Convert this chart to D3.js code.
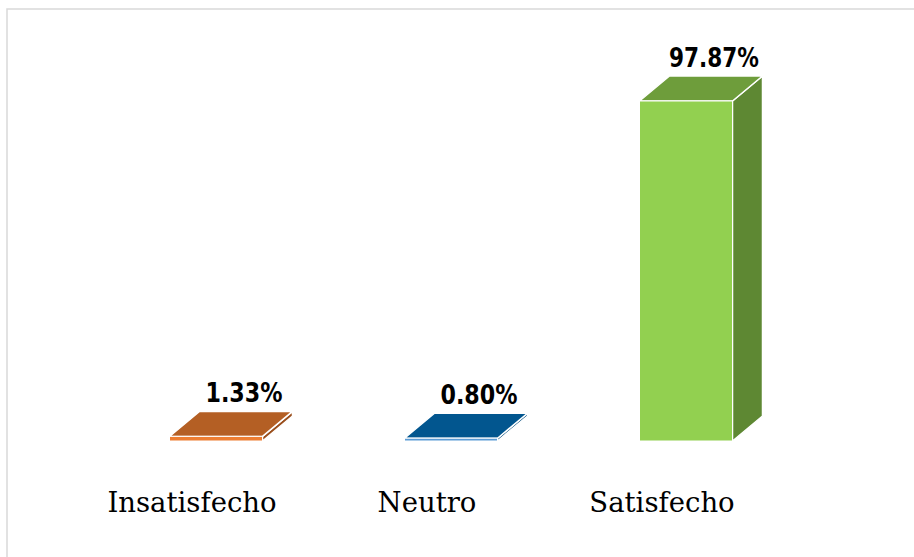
<!DOCTYPE html>
<html>
<head>
<meta charset="utf-8">
<script src="https://cdn.jsdelivr.net/npm/d3@7"></script>
<style>
html,body{margin:0;padding:0;background:#fff;}
svg{display:block;}
</style>
</head>
<body>
<script>
const categories = ["Insatisfecho", "Neutro", "Satisfecho"];
const values = [1.33, 0.80, 97.87];
const valueLabels = ["1.33%", "0.80%", "97.87%"];
const frontColors = ["#ED7D31", "#5B9BD5", "#92D050"];
const topColors = ["#B45F24", "#02568F", "#6E9D3B"];
const sideColors = ["#9A4E1C", "#024A7A", "#5E8833"];

const W = 914, H = 557;
const svg = d3.select("body").append("svg").attr("width", W).attr("height", H);

// chart border
svg.append("rect").attr("x", 7).attr("y", 9).attr("width", W + 10).attr("height", H + 10)
  .attr("fill", "none").attr("stroke", "#d9d9d9").attr("stroke-width", 1.5);

const x = d3.scalePoint().domain(categories).range([216, 686]);
const y = d3.scaleLinear().domain([0, 100]).range([441, 93.6]);
const bw = 93, dx = 30, dy = 25;

const g = svg.append("g");
categories.forEach((c, i) => {
  const cx = x(c), x0 = cx - bw / 2, x1 = cx + bw / 2;
  const yt = y(values[i]), yb = y(0);
  // side face
  g.append("path")
    .attr("d", `M${x1},${yb} L${x1 + dx},${yb - dy} L${x1 + dx},${yt - dy} L${x1},${yt} Z`)
    .attr("fill", sideColors[i]).attr("stroke", "#fff").attr("stroke-width", 1.5).attr("stroke-linejoin", "round");
  // top face
  g.append("path")
    .attr("d", `M${x0},${yt} L${x0 + dx},${yt - dy} L${x1 + dx},${yt - dy} L${x1},${yt} Z`)
    .attr("fill", topColors[i]).attr("stroke", "#fff").attr("stroke-width", 1.5).attr("stroke-linejoin", "round");
  // front face
  g.append("rect")
    .attr("x", x0).attr("y", yt).attr("width", bw).attr("height", Math.max(yb - yt, 0))
    .attr("fill", frontColors[i]).attr("stroke", "#fff").attr("stroke-width", 1);
  // value label
  g.append("text")
    .attr("x", cx + 28).attr("y", yt - dy - 9)
    .attr("text-anchor", "middle")
    .attr("font-family", "'DejaVu Sans', sans-serif").attr("font-weight", "bold")
    .attr("font-size", 27)
    .attr("textLength", valueLabels[i].length === 6 ? 90 : 77)
    .attr("lengthAdjust", "spacingAndGlyphs")
    .attr("fill", "#000")
    .text(valueLabels[i]);
  // category label
  g.append("text")
    .attr("x", cx - 24).attr("y", 512)
    .attr("text-anchor", "middle")
    .attr("font-family", "'DejaVu Serif', serif")
    .attr("font-size", 27.5)
    .attr("fill", "#000")
    .text(c);
});
</script>
</body>
</html>
